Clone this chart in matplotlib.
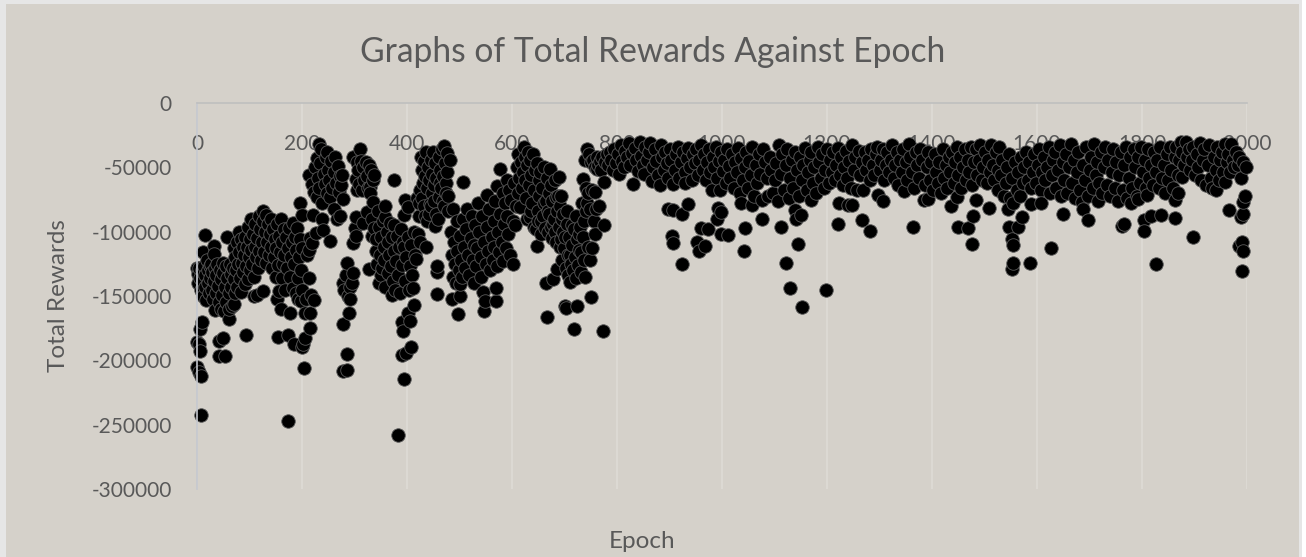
import numpy as np
import matplotlib
matplotlib.use("Agg")
import matplotlib.pyplot as plt

plt.rcParams['font.family'] = ['Lato', 'DejaVu Sans']
plt.rcParams['axes.unicode_minus'] = False

# values, (epoch, total reward)
points_0 = [(0,-128600),(0,-185500),(0,-205500),(1,-133000),(2,-140000),(3,-187000),(3,-208900),(4,-128000),(5,-175700),(6,-192500),
    (6,-136000),(8,-212000),(8,-242500),(8,-145000),(9,-130000),(10,-170500),(11,-116000),(11,-138000),(12,-150000),(13,-127000),
    (15,-102700),(15,-134000),(15,-143000),(18,-153000),(19,-122000),(20,-130000),(21,-140000),(22,-148000),(24,-127000),(25,-136000),
    (27,-125000),(28,-145000),(29,-131000),(30,-152000),(32,-111000),(32,-138000),(33,-117500),(34,-128000),(35,-161000),(36,-148000),
    (37,-134000),(39,-125000),(40,-142000),(41,-185000),(41,-197000),(42,-155000),(43,-130000),(45,-160000),(46,-137000),(47,-149000),
    (49,-183000),(49,-124000),(50,-132000),(52,-162000),(53,-143000),(54,-197000),(55,-155000),(56,-127000),(57,-104000),(58,-136000),
    (60,-168000),(60,-148000),(61,-160000),(62,-125000),(64,-133000),(65,-143000),(67,-158000),(68,-128000),(70,-156000),(70,-137000),
    (71,-113000),(72,-148000),(73,-120000),(75,-130000),(76,-108000),(77,-143000),(78,-125000),(80,-100000),(80,-116000),(82,-136000),
    (83,-147000),(84,-106000),(85,-124000),(87,-112000),(88,-131000),(90,-118000),(91,-141000),(92,-104000),(94,-180000),(94,-127000),
    (95,-112000),(97,-137000),(98,-96000),(99,-120000)]

points_100 = [(100,-106000),(100,-130000),(102,-114000),(103,-90000),(105,-125000),(106,-102000),(108,-150000),(108,-135000),(110,-112000),(111,-94000),
    (112,-120000),(114,-149000),(115,-105000),(116,-128000),(118,-88000),(119,-115000),(120,-98000),(122,-122000),(123,-108000),(125,-84000),
    (125,-146000),(126,-92000),(128,-116000),(130,-100000),(131,-87000),(132,-124000),(134,-108000),(136,-94000),(137,-118000),(139,-102000),
    (140,-90000),(141,-112000),(143,-128000),(145,-98000),(146,-120000),(148,-106000),(150,-113000),(151,-135000),(152,-94000),(153,-152000),
    (154,-181700),(155,-126000),(156,-103000),(157,-146000),(158,-116000),(160,-160000),(160,-90500),(161,-108000),(162,-136000),(163,-125000),
    (165,-98000),(166,-118000),(168,-145000),(170,-104000),(171,-128000),(173,-180000),(173,-247000),(174,-113000),(176,-97000),(177,-135000),
    (178,-163000),(179,-120000),(180,-108000),(182,-144000),(183,-93000),(184,-187600),(185,-125000),(186,-104000),(188,-148000),(189,-114000),
    (190,-97000),(192,-136000),(193,-152000),(195,-120000),(196,-106000),(197,-77600),(198,-130000),(199,-154000)]

points_200 = [(200,-189500),(200,-145000),(200,-113000),(200,-87000),(202,-187000),(204,-206000),(206,-183000),(206,-163000),(208,-152000),(210,-118000),
    (213,-55600),(213,-114000),(213,-136000),(215,-105000),(216,-175000),(216,-163500),(218,-149000),(219,-62600),(219,-109000),(221,-87000),
    (222,-153000),(222,-69000),(224,-50000),(226,-101000),(228,-43000),(229,-73000),(230,-58000),(232,-31500),(233,-66000),(235,-47000),
    (236,-36000),(238,-78000),(238,-90500),(240,-99000),(241,-55000),(243,-63000),(245,-42000),(247,-70000),(248,-38000),(250,-52000),
    (252,-60000),(253,-107000),(254,-73000),(256,-45000),(258,-66000),(260,-82000),(261,-54000),(263,-42000),(265,-62000),(267,-90500),
    (268,-49000),(270,-69000),(272,-57000),(273,-88000),(274,-64000),(276,-56000),(278,-74300),(279,-140000),(279,-172000),(279,-208000),
    (280,-145500),(283,-134000),(286,-124000),(286,-195400),(286,-207500),(288,-150000),(289,-163000),(291,-143000),(292,-152700),(295,-140000),
    (297,-132000),(298,-42000),(298,-109000),(300,-97000),(302,-59000),(302,-103000),(303,-88500),(305,-46000),(305,-68000),(307,-52000)]

points_300 = [(309,-63000),(311,-36000),(312,-45000),(314,-68000),(316,-93000),(317,-50000),(319,-60000),(321,-46000),(323,-57000),(324,-85000),
    (325,-66000),(327,-129400),(327,-48000),(329,-65000),(330,-70000),(331,-52000),(333,-90000),(334,-103000),(335,-60000),(336,-77000),
    (338,-56000),(338,-97000),(340,-115000),(341,-106000),(343,-125000),(344,-84000),(346,-140000),(347,-96000),(348,-118000),(350,-134000),
    (351,-104000),(353,-128000),(354,-92000),(356,-112000),(357,-122000),(359,-80000),(359,-88500),(359,-143000),(361,-100000),(363,-132000),
    (364,-108000),(366,-118000),(368,-93000),(369,-127000),(371,-104000),(372,-149000),(374,-138000),(375,-60000),(375,-95000),(376,-115000),
    (378,-145000),(379,-123000),(381,-103000),(383,-258000),(383,-134000),(385,-112000),(387,-148000),(388,-98000),(390,-196000),(390,-170500),
    (390,-126000),(392,-177000),(392,-108000),(394,-214500),(394,-112000),(395,-87200),(397,-75600),(397,-138000),(399,-194600),(399,-120000)]

points_400 = [(401,-80700),(401,-163000),(402,-104000),(403,-145500),(405,-169500),(406,-127000),(408,-190000),(408,-110000),(410,-134000),(411,-144000),
    (413,-100000),(414,-157000),(416,-118000),(418,-121000),(419,-74000),(420,-102000),(422,-88000),(423,-78000),(424,-108000),(425,-68000),(427,-42000),
    (428,-52000),(429,-74000),(430,-62000),(432,-45000),(433,-80000),(434,-57000),(435,-88000),(436,-38000),(437,-112000),(438,-66000),(439,-92000),(440,-50000),(441,-86400),
    (442,-60000),(444,-78700),(445,-44000),(446,-80000),(447,-70000),(448,-55000),(450,-38000),(451,-76000),(452,-64000),(453,-95800),(454,-47000),(455,-86000),(456,-58000),
    (457,-131000),(458,-127000),(458,-148800),(459,-90000),(460,-73000),(461,-42000),(462,-62000),(463,-52000),(465,-66000),(467,-36000),(468,-76000),(469,-57000),(470,-33600),
    (471,-80000),(472,-47000),(474,-62000),(475,-70000),(476,-39000),(477,-54000),(478,-84000),(479,-72000),(481,-44000),(483,-100000),(485,-152000),(486,-118000),(487,-135000),
    (488,-82000),(490,-108000),(491,-125000),(493,-140000),(495,-92000),(496,-115000),(498,-164000),(499,-130000),(500,-150000),(500,-141000)]

points_500 = [(501,-103000),(503,-122000),(505,-135000),(506,-90000),(507,-61300),(509,-112000),(511,-128000),(513,-98000),(515,-82000),(517,-118000),
    (519,-134000),(521,-105000),(523,-88000),(525,-122000),(527,-110000),(528,-139700),(530,-95000),(532,-127000),(534,-113000),(536,-78000),
    (538,-100000),(540,-120000),(541,-135000),(543,-88000),(545,-147000),(546,-108000),(547,-161500),(549,-153700),(550,-125000),(552,-71700),
    (553,-96000),(555,-115000),(557,-82000),(559,-130000),(561,-104000),(563,-122000),(565,-92000),(566,-112000),(568,-76000),(570,-144000),
    (570,-154000),(571,-127000),(572,-64700),(574,-100000),(575,-116000),(577,-51500),(578,-86000),(580,-108000),(582,-70000),(583,-123000),
    (585,-94000),(587,-78000),(588,-113000),(590,-60000),(591,-88000),(593,-102000),(595,-68000),(597,-118000),(599,-75000),(601,-125500)]

points_600 = [(602,-92000),(604,-62000),(606,-95000),(607,-80000),(609,-50000),(611,-70000),(612,-39300),(614,-58000),(615,-80700),(617,-46000),
    (619,-66000),(620,-54000),(622,-34000),(624,-42000),(625,-60000),(627,-74000),(628,-90000),(629,-48000),(631,-38000),(632,-64000),(634,-88500),
    (635,-44000),(636,-84000),(637,-56000),(639,-78000),(640,-40000),(641,-96000),(642,-68000),(644,-52000),(646,-98300),(647,-47000),(647,-111000),(649,-84000),
    (650,-92000),(651,-60000),(652,-72000),(654,-54000),(655,-102000),(656,-92000),(658,-66000),(659,-88000),(660,-50000),(661,-78000),(663,-97000),(664,-76000),(665,-139700),(666,-166000),
    (667,-58000),(668,-100000),(669,-84000),(670,-70000),(671,-86000),(672,-51000),(674,-96000),(675,-64000),(676,-105000),(677,-76000),(678,-94000),(679,-136400),(680,-90000),(681,-100000),
    (682,-60000),(683,-108000),(684,-73000),(685,-129000),(686,-84000),(688,-72500),(689,-96000),(690,-57500),(691,-112000),(692,-80000),(693,-106000),(694,-72000),(695,-90000)]

points_700 = [(696,-122000),(697,-86000),(698,-100000),(699,-113000),(700,-104000),(701,-158000),(702,-128000),(703,-159700),(704,-94000),(705,-84000),(706,-118000),(707,-134000),(709,-104000),
    (710,-118000),(711,-139500),(712,-125000),(714,-110000),(715,-95000),(716,-130000),(718,-175500),(718,-98000),(720,-120000),(721,-88000),(722,-136000),(723,-157600),(724,-106000),
    (726,-126000),(727,-102000),(728,-114000),(730,-96000),(731,-116000),(732,-131000),(733,-78000),(735,-104000),(736,-58700),(737,-122000),(738,-92000),(739,-44500),(739,-135000),
    (740,-84000),(741,-66000),(742,-36000),(743,-78000),(744,-112000),(745,-70000),(746,-40000),(748,-82000),(749,-122000),(750,-46000),(751,-150600),
    (752,-113000),(753,-68000),(755,-44000),(756,-92000),(758,-50000),(759,-69000),(759,-101500),(760,-82000),(761,-51000),(762,-42000),
    (764,-48000),(766,-80000),(768,-45000),(770,-52000),(772,-42000),(773,-177000),(775,-94500),(776,-61300),(778,-46000),(780,-40000)]

points_800 = [(783,-48000),(786,-38000),(789,-44000),(792,-52000),(795,-36000),(798,-47000),(801,-40000),(804,-55000),(807,-33000),(810,-45000),
    (813,-50000),(816,-37000),(819,-42000),(822,-31000),(825,-48000),(828,-39000),(831,-63000),(834,-35000),(837,-44000),(840,-53000),
    (843,-30000),(846,-41000),(849,-48000),(851,-55000),(854,-34000),(857,-44000),(860,-38000),(863,-31000),(866,-60500),(869,-50000),
    (872,-36000),(875,-45000),(878,-56000),(881,-64000),(883,-33000),(886,-42000),(889,-52000),(892,-38000),(895,-47000),(898,-82000),
    (898,-58000),(900,-36000),(903,-44000),(905,-103500),(907,-62600),(907,-83300),(907,-108700),(910,-52000),(913,-40000),(916,-34000),
    (919,-58000),(922,-46000),(923,-86000),(923,-125000),(926,-38000),(929,-54000),(930,-62000),(933,-43000),(936,-78700),(936,-35000),
    (939,-50000),(942,-60000),(945,-40000),(948,-47000),(951,-36000),(953,-108000),(954,-56000),(957,-115000),(957,-44000),(960,-96800),
    (960,-33000),(963,-52000),(966,-40000),(968,-111000),(969,-60000),(972,-46000),(974,-98300),(975,-36000),(978,-54000),(980,-68000),
    (982,-42000),(985,-50000),(988,-34000),(990,-90300),(991,-58000),(992,-81300),(994,-45000),(996,-67800),(998,-38000)]

points_1000 = [(999,-84600),(999,-102000),(1001,-53000),(1004,-44000),(1007,-62000),(1010,-36000),(1012,-102700),(1013,-49000),(1016,-58000),(1019,-40000),
    (1022,-66000),(1025,-46000),(1028,-54000),(1031,-35000),(1034,-70000),(1037,-78000),(1037,-43000),(1040,-60000),(1041,-115000),(1043,-50000),
    (1044,-97000),(1046,-38000),(1049,-66000),(1052,-45000),(1055,-56000),(1057,-79500),(1058,-34000),(1061,-72000),(1064,-48000),(1067,-62000),
    (1070,-40000),(1073,-55000),(1076,-75000),(1077,-90300),(1079,-36000),(1082,-46000),(1085,-58000),(1088,-72000),(1091,-42000),(1094,-52000),
    (1097,-70000),(1100,-60000),(1103,-47000),(1106,-76000),(1109,-33000),(1112,-96300),(1112,-55000),(1115,-40000),(1118,-68000),(1121,-48000),
    (1122,-124700),(1124,-36000),(1127,-74000),(1130,-144000),(1130,-58000),(1133,-44000),(1136,-66000),(1139,-82800),(1139,-38000),(1141,-89800),
    (1143,-52000),(1145,-109700),(1146,-72000),(1149,-42000),(1151,-87200),(1152,-158400),(1152,-60000),(1155,-48000),(1158,-35000),(1161,-68000),
    (1164,-54000),(1167,-44000),(1169,-75600),(1170,-38000),(1173,-62000),(1176,-50000),(1179,-70000),(1182,-34000),(1185,-46000),(1188,-58000),
    (1191,-40000),(1194,-66000),(1197,-52000),(1199,-145000),(1200,-36000)]

points_1200 = [(1203,-62000),(1206,-44000),(1209,-54000),(1212,-38000),(1215,-60000),(1218,-48000),(1220,-94200),(1221,-35000),(1223,-77600),(1224,-56000),
    (1227,-42000),(1230,-64000),(1233,-50000),(1236,-37000),(1239,-58000),(1240,-79500),(1242,-45000),(1245,-66000),(1247,-79500),(1248,-33000),
    (1251,-52000),(1254,-42000),(1257,-68000),(1260,-37000),(1263,-56000),(1266,-46000),(1267,-91000),(1269,-67800),(1272,-38000),(1275,-52000),
    (1278,-44000),(1281,-99400),(1281,-60000),(1284,-36000),(1287,-48000),(1290,-56000),(1293,-40000),(1296,-34000),(1298,-71700),(1300,-52000),
    (1303,-44000),(1306,-76000),(1306,-36000),(1309,-60000),(1312,-48000),(1315,-38000),(1318,-54000),(1321,-44000),(1324,-33000),(1327,-58000),
    (1330,-48000),(1333,-38000),(1336,-64000),(1339,-44000),(1342,-54000),(1345,-36000),(1347,-68300),(1350,-46000),(1353,-60000),(1356,-32000),
    (1359,-42000),(1362,-54000),(1363,-96300),(1366,-66000),(1369,-38000),(1372,-48000),(1375,-58000),(1378,-36000),(1381,-44000),(1384,-75000),
    (1387,-64000),(1390,-50000),(1393,-74300),(1393,-38000),(1396,-60000),(1399,-46000)]

points_1400 = [(1402,-68000),(1405,-40000),(1408,-54000),(1411,-62000),(1414,-46000),(1417,-70000),(1420,-36000),(1423,-58000),(1426,-48000),(1429,-66000),
    (1432,-42000),(1435,-54000),(1436,-80000),(1438,-38000),(1441,-62000),(1444,-46000),(1447,-34000),(1448,-73000),(1450,-96300),(1450,-56000),
    (1453,-42000),(1456,-66000),(1459,-50000),(1462,-36000),(1465,-60000),(1468,-96800),(1468,-44000),(1471,-54000),(1474,-34000),(1477,-109700),
    (1477,-64000),(1479,-87700),(1480,-46000),(1483,-75000),(1483,-36000),(1486,-56000),(1489,-44000),(1492,-33000),(1495,-60000),(1498,-50000),
    (1501,-38000),(1504,-62000),(1507,-44000),(1509,-81800),(1510,-54000),(1513,-33000),(1516,-48000),(1519,-60000),(1522,-38000),(1525,-52000),
    (1526,-67800),(1528,-34000),(1531,-56000),(1534,-44000),(1537,-72000),(1540,-62000),(1543,-50000),(1545,-82000),(1546,-40000),(1547,-96300),
    (1549,-74000),(1552,-105800),(1552,-58000),(1553,-129000),(1554,-110000),(1555,-124200),(1555,-78000),(1558,-46000),(1561,-68000),(1564,-96300),
    (1564,-54000),(1567,-72000),(1570,-42000),(1571,-88500),(1573,-62000),(1576,-50000),(1579,-38000),(1582,-60000),(1585,-46000),(1587,-124200),
    (1588,-78700),(1589,-66000),(1592,-54000),(1595,-40000),(1598,-62000)]

points_1600 = [(1601,-48000),(1604,-36000),(1607,-68000),(1608,-77600),(1610,-54000),(1613,-42000),(1616,-60000),(1619,-50000),(1622,-34000),(1625,-70000),
    (1627,-112600),(1628,-56000),(1631,-44000),(1634,-38000),(1637,-66000),(1640,-52000),(1643,-33000),(1646,-72000),(1649,-46000),(1650,-86000),
    (1652,-60000),(1655,-40000),(1658,-70000),(1661,-50000),(1664,-32000),(1667,-62000),(1670,-44000),(1673,-74000),(1676,-54000),(1679,-38000),
    (1682,-68000),(1685,-77000),(1688,-82000),(1688,-48000),(1691,-60000),(1694,-34000),(1697,-72000),(1698,-91000),(1700,-52000),(1703,-42000),
    (1706,-66000),(1709,-32000),(1712,-56000),(1715,-46000),(1717,-76000),(1718,-62000),(1721,-38000),(1724,-70000),(1727,-50000),(1730,-34000),
    (1733,-64000),(1736,-44000),(1739,-72000),(1742,-54000),(1745,-36000),(1748,-66000),(1751,-46000),(1754,-76000),(1757,-56000),(1760,-38000),
    (1761,-95500),(1763,-68000),(1765,-94200),(1766,-48000),(1769,-34000),(1772,-74000),(1775,-58000),(1778,-42000),(1779,-78000),(1781,-66000),
    (1784,-36000),(1787,-50000),(1790,-72000),(1793,-74300),(1793,-42000),(1796,-62000),(1799,-34000)]

points_1800 = [(1802,-54000),(1803,-91000),(1804,-99400),(1805,-44000),(1808,-66000),(1810,-71700),(1811,-36000),(1814,-58000),(1817,-87700),(1817,-48000),
    (1820,-64000),(1823,-38000),(1826,-125300),(1826,-54000),(1829,-44000),(1832,-66000),(1835,-34000),(1836,-87000),(1838,-58000),(1841,-48000),
    (1844,-70000),(1847,-40000),(1850,-60000),(1853,-34000),(1856,-52000),(1859,-66000),(1862,-89000),(1862,-42000),(1863,-75600),(1865,-34000),
    (1868,-56000),(1869,-70000),(1871,-44000),(1874,-30000),(1876,-57500),(1877,-38000),(1880,-48000),(1883,-30000),(1886,-42000),(1889,-36000),
    (1892,-52000),(1895,-44000),(1898,-104300),(1898,-34000),(1901,-56000),(1904,-40000),(1907,-50000),(1910,-31000),(1913,-60000),(1916,-44000),
    (1919,-36000),(1922,-64000),(1925,-48000),(1928,-33000),(1931,-58000),(1934,-66000),(1937,-42000),(1940,-67300),(1940,-52000),(1943,-34000),
    (1946,-60000),(1949,-44000),(1952,-38000),(1955,-54000),(1958,-61300),(1958,-32000),(1961,-46000),(1964,-40000),(1965,-82800),(1967,-54000),
    (1970,-32000),(1973,-44000),(1976,-50000),(1979,-38000),(1982,-48000),(1984,-111300),(1985,-42000),(1988,-58500),(1988,-88500),(1990,-108000),
    (1991,-130700),(1993,-76900),(1993,-86000),(1993,-115000),(1993,-46000),(1997,-72500),(1998,-49700)]

x_tick_labels = [0, 200, 400, 600, 800, 1000, 1200, 1400, 1600, 1800, 2000]
y_tick_labels = [0, -50000, -100000, -150000, -200000, -250000, -300000]

all_points = (points_0 + points_100 + points_200 + points_300 + points_400 + points_500 + points_600
              + points_700 + points_800 + points_1000 + points_1200 + points_1400 + points_1600 + points_1800)
all_points = sorted(all_points)
epochs = [p[0] for p in all_points]
rewards = [p[1] for p in all_points]

W, H = 1306, 557
bg = '#D5D1CA'
text_col = '#595959'

fig = plt.figure(figsize=(W / 100, H / 100), dpi=100, facecolor='white')
# chart panel sits on a thin light margin
fig.add_artist(plt.Rectangle((0, 0), 1302 / W, 1, transform=fig.transFigure, facecolor='#E6E6E6', edgecolor='none', zorder=-2))
fig.add_artist(plt.Rectangle((6 / W, 0), (1299 - 6) / W, 1 - 4 / H, transform=fig.transFigure, facecolor=bg, edgecolor='none', zorder=-1))

ax = fig.add_axes([197 / W, 1 - 489 / H, (1247 - 197) / W, (489 - 103) / H])
ax.patch.set_alpha(0)
ax.scatter(epochs, rewards, s=95, c='black', edgecolors='#5a5a5a', linewidths=0.6, zorder=2, clip_on=False)

ax.set_xlim(0, 2000)
ax.set_ylim(-300000, 0)
ax.set_xticks(x_tick_labels)
ax.set_yticks(y_tick_labels)
ax.grid(axis='x', color='#DEDBD6', linewidth=1.2)
ax.set_axisbelow(True)
ax.tick_params(length=0, labelsize=15, labelcolor=text_col)
ax.tick_params(axis='x', pad=22)
ax.tick_params(axis='y', pad=18)

for s in ['top', 'right']:
    ax.spines[s].set_visible(False)
ax.spines['bottom'].set_position(('data', 0))
ax.spines['bottom'].set_color('#BFBFBF')
ax.spines['bottom'].set_linewidth(1.2)
ax.spines['left'].set_color('#C5C8CF')
ax.spines['left'].set_linewidth(1.2)

fig.text(653 / W, 1 - 52 / H, 'Graphs of Total Rewards Against Epoch', color=text_col, fontsize=24.2, ha='center', va='center')
fig.text(59 / W, 1 - 296 / H, 'Total Rewards', color=text_col, fontsize=17.5, rotation=90, ha='center', va='center')
fig.text(642 / W, 1 - 541 / H, 'Epoch', color=text_col, fontsize=17.5, ha='center', va='center')

fig.savefig('out.png', dpi=100)
